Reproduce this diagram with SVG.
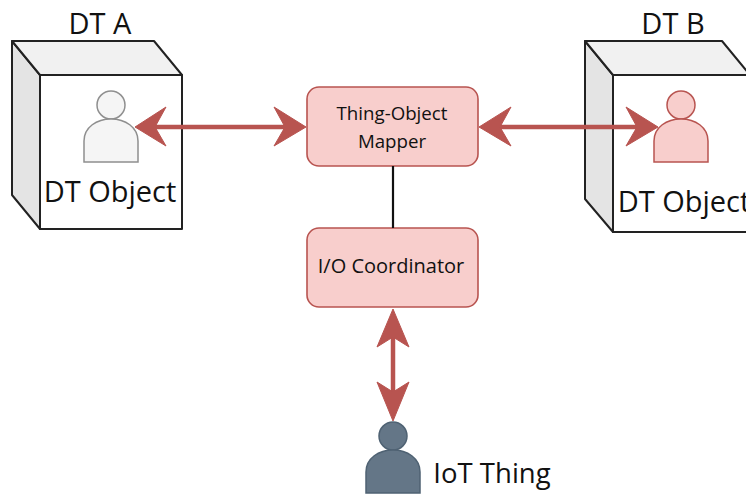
<svg xmlns="http://www.w3.org/2000/svg" width="746" height="495" viewBox="0 0 746 495">
<style>
text{font-family:"Open Sans","Liberation Sans",sans-serif;fill:#111;text-anchor:middle}
.lbl{font-size:29px}
.ttl{font-size:29px}
.iot{font-size:27.5px}
.sm{font-size:18.7px}
.io{font-size:20px}
.cube{stroke:#222;stroke-width:2;stroke-linejoin:round}
.box{fill:#f8cecc;stroke:#b85450;stroke-width:1.6}
.arr{stroke:#b85450;stroke-width:4.5;fill:none}
.head{fill:#b85450;stroke:#b85450;stroke-width:1}
</style>
<defs>
<g id="person"><circle cx="0" cy="0" r="14"/><path d="M-27 57V36C-27 22-14 14 0 14S27 22 27 36V57Z"/></g>
</defs>
<rect width="746" height="495" fill="#fff"/>
<g id="dt-a">
<path class="cube" fill="#e4e4e4" d="M12 41L40 75V229L12 195Z"/>
<path class="cube" fill="#f1f1f1" d="M12 41H154L182 75H40Z"/>
<rect class="cube" fill="#fff" x="40" y="75" width="142" height="154"/>
<use href="#person" x="111" y="105" fill="#f5f5f5" stroke="#8f8f8f" stroke-width="1.5"/>
<text class="ttl" x="100" y="34">DT A</text>
<text class="lbl" x="110" y="202">DT Object</text>
</g>
<g id="dt-b">
<path class="cube" fill="#e4e4e4" d="M585 41L613 75V232L585 199Z"/>
<path class="cube" fill="#f1f1f1" d="M585 41H722L750 75H613Z"/>
<rect class="cube" fill="#fff" x="613" y="75" width="142" height="157"/>
<use href="#person" x="681" y="105" fill="#f8cecc" stroke="#b85450" stroke-width="1.5"/>
<text class="ttl" x="673" y="34">DT B</text>
<text class="lbl" x="684" y="212">DT Object</text>
</g>
<g id="thing-object-mapper">
<rect class="box" x="307" y="87" width="171" height="79" rx="12"/>
<text class="sm" x="392" y="120">Thing-Object</text>
<text class="sm" x="392" y="148">Mapper</text>
</g>
<g id="io-coordinator">
<rect class="box" x="307" y="228" width="171" height="79" rx="12"/>
<text class="io" x="391" y="273">I/O Coordinator</text>
</g>
<g id="iot-thing">
<use href="#person" x="393" y="436" fill="#647687" stroke="#4f6273" stroke-width="1.5"/>
<text class="iot" x="492" y="483">IoT Thing</text>
</g>
<g id="connectors">
<path d="M393 166V228" fill="none" stroke="#111" stroke-width="2.2"/>
<path class="arr" d="M150 127H290"/>
<path class="head" d="M135 127L166 107L155 127L166 146Z"/>
<path class="head" d="M306 127L274 107L285 127L274 146Z"/>
<path class="arr" d="M495 127H642"/>
<path class="head" d="M479 127L511 107L500 127L511 146Z"/>
<path class="head" d="M658 127L626 107L637 127L626 146Z"/>
<path class="arr" d="M393 325V405"/>
<path class="head" d="M393 309L377 347L393 337L409 347Z"/>
<path class="head" d="M393 421L377 382L393 392L409 382Z"/>
</g>
</svg>
